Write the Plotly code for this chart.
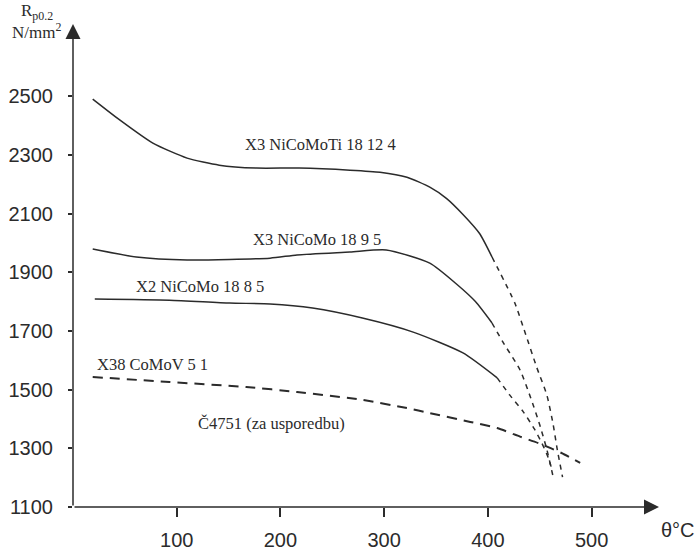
import plotly.graph_objects as go

# --- data ---
x_ticks = [100, 200, 300, 400, 500]
y_ticks = [1100, 1300, 1500, 1700, 1900, 2100, 2300, 2500]

# X3 NiCoMoTi 18 12 4
t1_x = [19, 45, 77, 110, 141, 177, 218, 267, 296, 322, 344, 360, 376, 392, 404]
t1_y = [2490, 2419, 2340, 2289, 2265, 2255, 2255, 2248, 2241, 2224, 2190, 2152, 2097, 2032, 1952]
t1_ext_x = [404, 426, 436, 447, 457, 463, 467, 472]
t1_ext_y = [1952, 1795, 1693, 1577, 1480, 1380, 1294, 1202]

# X3 NiCoMo 18 9 5
t2_x = [19, 61, 110, 190, 216, 267, 302, 344, 370, 388, 404]
t2_y = [1979, 1952, 1942, 1948, 1959, 1969, 1976, 1931, 1859, 1800, 1727]
t2_ext_x = [404, 414, 431, 441, 450, 457, 463]
t2_ext_y = [1727, 1665, 1567, 1475, 1380, 1294, 1202]

# X2 NiCoMo 18 8 5
t3_x = [21, 93, 151, 190, 231, 279, 328, 376, 409]
t3_y = [1809, 1805, 1795, 1792, 1778, 1744, 1696, 1625, 1540]
t3_ext_x = [409, 421, 434, 445, 452, 458, 462]
t3_ext_y = [1540, 1482, 1425, 1365, 1318, 1270, 1226]

# X38 CoMoV 5 1 (Č4751, za usporedbu)
t4_x = [19, 93, 167, 216, 279, 322, 344, 383, 409, 431, 450, 471, 489]
t4_y = [1543, 1526, 1509, 1492, 1465, 1437, 1420, 1390, 1369, 1340, 1316, 1284, 1250]

INK = "#2b2b2b"
fig = go.Figure()

def add(x, y, dash, width=1.5):
    fig.add_trace(go.Scatter(x=x, y=y, mode="lines",
                             line=dict(color=INK, width=width, dash=dash,
                                       shape="spline", smoothing=0.6),
                             hoverinfo="skip", showlegend=False))

add(t1_x, t1_y, "solid")
add(t1_ext_x, t1_ext_y, "5px,5px")
add(t2_x, t2_y, "solid")
add(t2_ext_x, t2_ext_y, "5px,5px")
add(t3_x, t3_y, "solid")
add(t3_ext_x, t3_ext_y, "5px,5px")
add(t4_x, t4_y, "10px,7px", width=2)

serif = "Liberation Serif, Times New Roman, serif"
sans = "Liberation Sans, Arial, sans-serif"

labels = [
    ("X3 NiCoMoTi 18 12 4", 164, 2337),
    ("X3 NiCoMo 18 9 5", 172, 2013),
    ("X2 NiCoMo 18 8 5", 59, 1850),
    ("X38 CoMoV 5 1", 21, 1587),
    ("Č4751 (za usporedbu)", 119, 1386),
]
for txt, xx, yy in labels:
    fig.add_annotation(x=xx, y=yy, text=txt, showarrow=False, xanchor="left",
                       yanchor="middle", font=dict(family=serif, size=16.5, color=INK))

# axes with arrows
fig.add_annotation(x=565, y=1100, ax=0, ay=1100, xref="x", yref="y", axref="x", ayref="y",
                   showarrow=True, arrowhead=2, arrowsize=2, arrowwidth=1.5,
                   arrowcolor=INK, text="")
fig.add_annotation(x=0, y=2746, ax=0, ay=1100, xref="x", yref="y", axref="x", ayref="y",
                   showarrow=True, arrowhead=2, arrowsize=2, arrowwidth=1.5,
                   arrowcolor=INK, text="")

fig.add_annotation(x=-0.062, y=1.025, xref="paper", yref="paper", xanchor="center", yanchor="middle",
                   text="R<sub>p0.2</sub>", showarrow=False,
                   font=dict(family=serif, size=17, color=INK))
fig.add_annotation(x=-0.062, y=0.985, xref="paper", yref="paper", xanchor="center", yanchor="middle",
                   text="N/mm<sup>2</sup>", showarrow=False,
                   font=dict(family=serif, size=17, color=INK))
fig.add_annotation(x=1.065, y=-0.048, xref="paper", yref="paper", xanchor="right", yanchor="middle",
                   text="θ°C", showarrow=False,
                   font=dict(family=sans, size=20, color=INK))

fig.update_xaxes(range=[0, 565], tickvals=x_ticks, ticktext=[str(v) for v in x_ticks],
                 showgrid=False, zeroline=False, showline=False, automargin=False,
                 ticks="outside", ticklen=9, tickwidth=1.5, tickcolor=INK,
                 ticklabelstandoff=6,
                 tickfont=dict(family=sans, size=20, color=INK))
fig.update_yaxes(range=[1100, 2746], tickvals=y_ticks, ticktext=[str(v) for v in y_ticks],
                 showgrid=False, zeroline=False, showline=False, automargin=False,
                 ticks="outside", ticklen=4, tickwidth=1.5, tickcolor=INK,
                 ticklabelstandoff=11,
                 tickfont=dict(family=sans, size=20, color=INK))

fig.update_layout(width=699, height=551, margin=dict(l=73, r=40, t=24, b=44),
                  plot_bgcolor="white", paper_bgcolor="white")

fig.write_html("out.html", config={"displayModeBar": False},
               post_script="document.body.style.margin='0';document.body.style.overflow='hidden';")
